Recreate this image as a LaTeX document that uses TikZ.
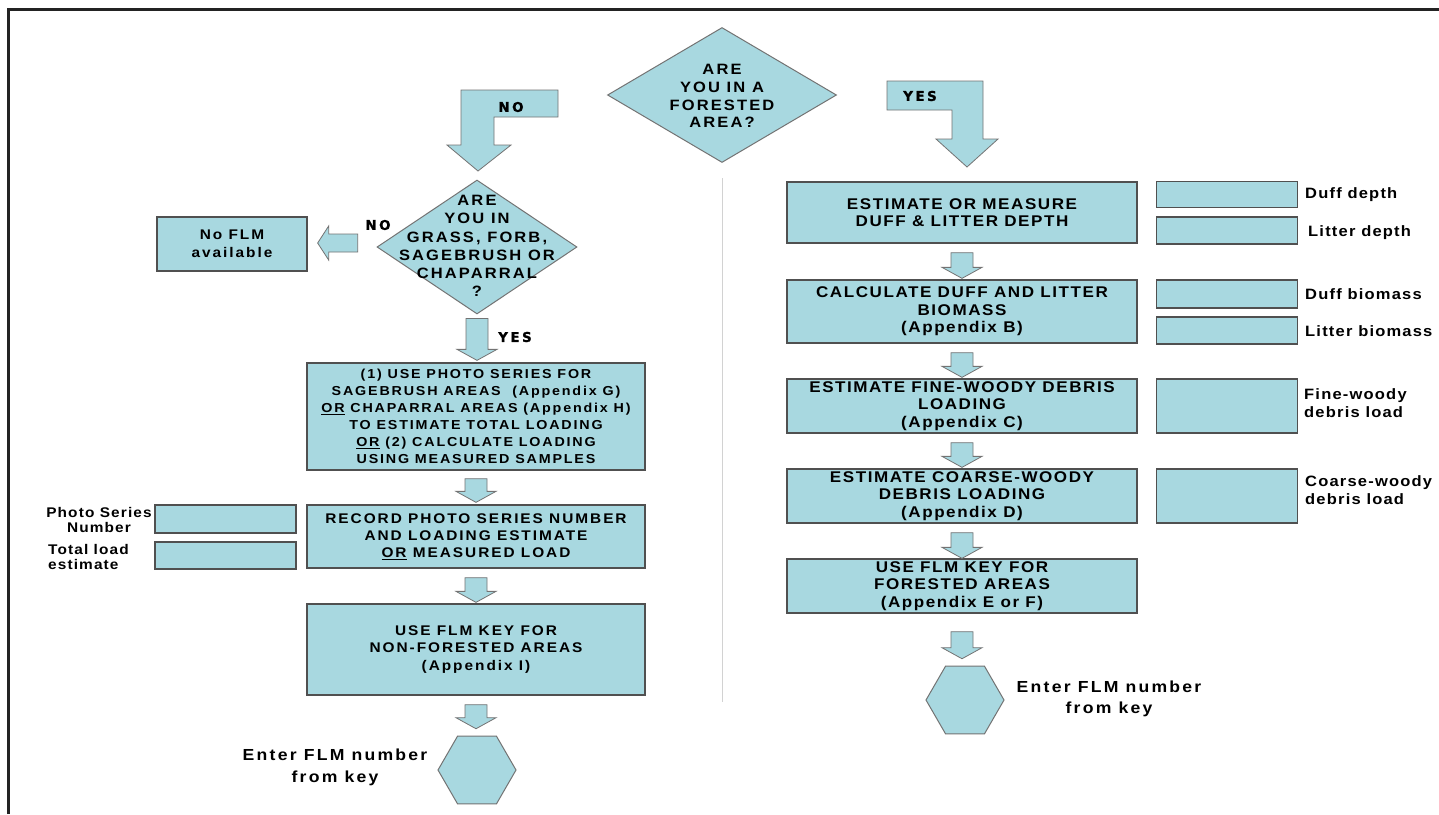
\documentclass[tikz,border=0pt]{standalone}
\usepackage{fontspec}
\setmainfont{Liberation Sans}
\newfontfamily\fA{Liberation Sans}[FakeStretch=1.1,LetterSpace=14]
\newfontfamily\fB{Liberation Sans}[FakeStretch=1.1,LetterSpace=10]
\newfontfamily\fC{Liberation Sans}[FakeStretch=1.1,LetterSpace=8]
\newfontfamily\fD{DejaVu Sans}[LetterSpace=18,FakeBold=1.2]
\usetikzlibrary{shapes.geometric,calc}
\definecolor{boxfill}{RGB}{168,216,224}
\definecolor{boxline}{RGB}{80,80,80}
\definecolor{arrline}{RGB}{115,115,115}
\definecolor{framec}{RGB}{35,35,35}
\newcommand\darrow[4]{%
  \draw[blockarr] ($(#1)+(-11,#3)$) -- ($(#1)+(11,#3)$) -- ($(#1 |- #2)+(11,-#4-11)$) -- ($(#1 |- #2)+(20,-#4-11)$) -- ($(#1 |- #2)+(0,-#4)$) -- ($(#1 |- #2)+(-20,-#4-11)$) -- ($(#1 |- #2)+(-11,-#4-11)$) -- cycle;}
\begin{document}
\begin{tikzpicture}[x=1pt,y=-1pt,
  box/.style={draw=boxline, line width=1.3pt, fill=boxfill, inner sep=0pt, align=center},
  lbox/.style={box, minimum width=338pt, font=\fA\bfseries\fontsize{14}{17.3}\selectfont},
  rbox/.style={box, minimum width=350pt, font=\fB\bfseries\fontsize{15.5}{17.5}\selectfont},
  side/.style={draw=boxline, line width=1.3pt, fill=boxfill, inner sep=0pt, minimum width=141pt},
  dia/.style={diamond, draw=arrline, line width=1pt, fill=boxfill, inner sep=0pt},
  diatext/.style={inner sep=0pt, align=center, font=\fA\bfseries\fontsize{15}{17.7}\selectfont},
  hexa/.style={regular polygon, regular polygon sides=6, draw=arrline, line width=1pt, fill=boxfill, inner sep=0pt, minimum size=78pt},
  blockarr/.style={draw=arrline, line width=0.8pt, fill=boxfill, line join=miter},
  yn/.style={inner sep=0pt, font=\fD\bfseries\fontsize{13.5}{15}\selectfont},
  rlbl/.style={inner sep=0pt, anchor=west, align=left, font=\fC\bfseries\fontsize{15}{18}\selectfont},
  llbl/.style={inner sep=0pt, font=\fC\bfseries\fontsize{14}{15}\selectfont},
  enter/.style={inner sep=0pt, align=center, font=\fA\bfseries\fontsize{16}{21.5}\selectfont}]
\useasboundingbox (0,0) rectangle (1439,814);
\fill[white] (0,0) rectangle (1439,814);
% frame
\draw[framec, line width=3pt, line join=miter] (8,814) -- (8,9) -- (1439,9);
% divider
\coordinate (divT) at (722,178);
\coordinate (divB) at (722,702);
\draw[gray!35, line width=1pt] (divT) -- (divB);

% top decision
\node[dia, minimum width=229pt, minimum height=135pt] (D1) at (722,95) {};
\node[diatext] (D1t) at (722,96) {ARE\\YOU IN A\\FORESTED\\AREA?};

% NO bent arrow
\coordinate (noS) at (558,103.5);
\coordinate (noT) at (478,171);
\draw[blockarr] (558,90) -- (461,90) -- (461,145) -- (447,145) -- (noT) -- (511,145) -- (494,145) -- (494,117) -- (558,117) -- cycle;
\node[yn] (noL1) at (511,107) {NO};
% YES bent arrow
\coordinate (yesS) at (887,95.5);
\coordinate (yesT) at (967,167);
\draw[blockarr] (887,81) -- (983,81) -- (983,139) -- (998,139) -- (yesT) -- (936,139) -- (952,139) -- (952,110) -- (887,110) -- cycle;
\node[yn] (yesL1) at (920,96) {YES};

% left branch
\node[dia, minimum width=200pt, minimum height=134pt] (D2) at (477,247) {};
\node[diatext, font=\fA\bfseries\fontsize{15}{18.2}\selectfont] (D2t) at (477,246) {ARE\\YOU IN\\GRASS, FORB,\\SAGEBRUSH OR\\CHAPARRAL\\?};

\node[box, minimum width=150pt, minimum height=54pt, font=\fA\bfseries\fontsize{14}{18}\selectfont] (NoFLM) at (232,244) {No FLM\\available};
\coordinate (na) at ($(NoFLM.east)+(10,-1)$);
\draw[blockarr] ($(na)+(40,-9)$) -- ($(na)+(11,-9)$) -- ($(na)+(11,-17)$) -- (na) -- ($(na)+(11,17)$) -- ($(na)+(11,9)$) -- ($(na)+(40,9)$) -- cycle;
\node[yn] (noL2) at (378,225) {NO};

\node[lbox, minimum height=107pt, font=\fA\bfseries\fontsize{13}{17}\selectfont] (L1) at (476,416.5) {(1) USE PHOTO SERIES FOR\\SAGEBRUSH AREAS\ \ (Appendix G)\\\underline{OR} CHAPARRAL AREAS (Appendix H)\\TO ESTIMATE TOTAL LOADING\\\underline{OR} (2) CALCULATE LOADING\\USING MEASURED SAMPLES};
\darrow{D2.south}{L1.north}{4}{2}
\node[yn] (yesL2) at (515,337) {YES};

\node[lbox, minimum height=63pt] (L2) at (476,536.5) {RECORD PHOTO SERIES NUMBER\\AND LOADING ESTIMATE\\\underline{OR} MEASURED LOAD};
\darrow{L1.south}{L2.north}{8}{2}

\node[side, minimum height=28pt] (SL1) at (225.5,519) {};
\node[side, minimum height=27pt] (SL2) at (225.5,555.5) {};
\node[llbl, align=center] (SL1t) at (99,520) {Photo Series\\Number};
\node[llbl, align=left, anchor=west] (SL2t) at (48,557) {Total load\\estimate};

\node[lbox, minimum height=91pt] (L3) at (476,649.5) {USE FLM KEY FOR\\NON-FORESTED AREAS\\(Appendix I)};
\darrow{L2.south}{L3.north}{9}{1}

\node[hexa] (H1) at (477,770) {};
\darrow{L3.south}{H1.north}{9}{7}
\node[enter] (E1) at (335,767.5) {Enter FLM number\\from key};

% right branch
\node[rbox, minimum height=61pt] (R1) at (962,212.5) {ESTIMATE OR MEASURE\\DUFF \& LITTER DEPTH};
\node[rbox, minimum height=63pt] (R2) at (962,311.5) {CALCULATE DUFF AND LITTER\\BIOMASS\\(Appendix B)};
\node[rbox, minimum height=54pt] (R3) at (962,406) {ESTIMATE FINE-WOODY DEBRIS\\LOADING\\(Appendix C)};
\node[rbox, minimum height=54pt] (R4) at (962,496) {ESTIMATE COARSE-WOODY\\DEBRIS LOADING\\(Appendix D)};
\node[rbox, minimum height=54pt] (R5) at (962,586) {USE FLM KEY FOR\\FORESTED AREAS\\(Appendix E or F)};
\node[hexa] (H2) at (965,700) {};
\darrow{R1.south}{R2.north}{9}{1}
\darrow{R2.south}{R3.north}{9}{1}
\darrow{R3.south}{R4.north}{9}{1}
\darrow{R4.south}{R5.north}{9}{0}
\darrow{R5.south}{H2.north}{18}{7}
\node[enter] (E2) at (1109,699) {Enter FLM number\\from key};

\node[side, minimum height=26pt] (S1) at (1227,194.5) {};
\node[side, minimum height=27pt] (S2) at (1227,230.5) {};
\node[side, minimum height=28pt] (S3) at (1227,294) {};
\node[side, minimum height=27pt] (S4) at (1227,330.5) {};
\node[side, minimum height=54pt] (S5) at (1227,406) {};
\node[side, minimum height=54pt] (S6) at (1227,496) {};
\node[rlbl] (S1t) at (1305,195) {Duff depth};
\node[rlbl] (S2t) at (1308,233) {Litter depth};
\node[rlbl] (S3t) at (1305,294) {Duff biomass};
\node[rlbl] (S4t) at (1305,331) {Litter biomass};
\node[rlbl] (S5t) at (1304,403) {Fine-woody\\debris load};
\node[rlbl] (S6t) at (1305,490.5) {Coarse-woody\\debris load};
\end{tikzpicture}
\end{document}
